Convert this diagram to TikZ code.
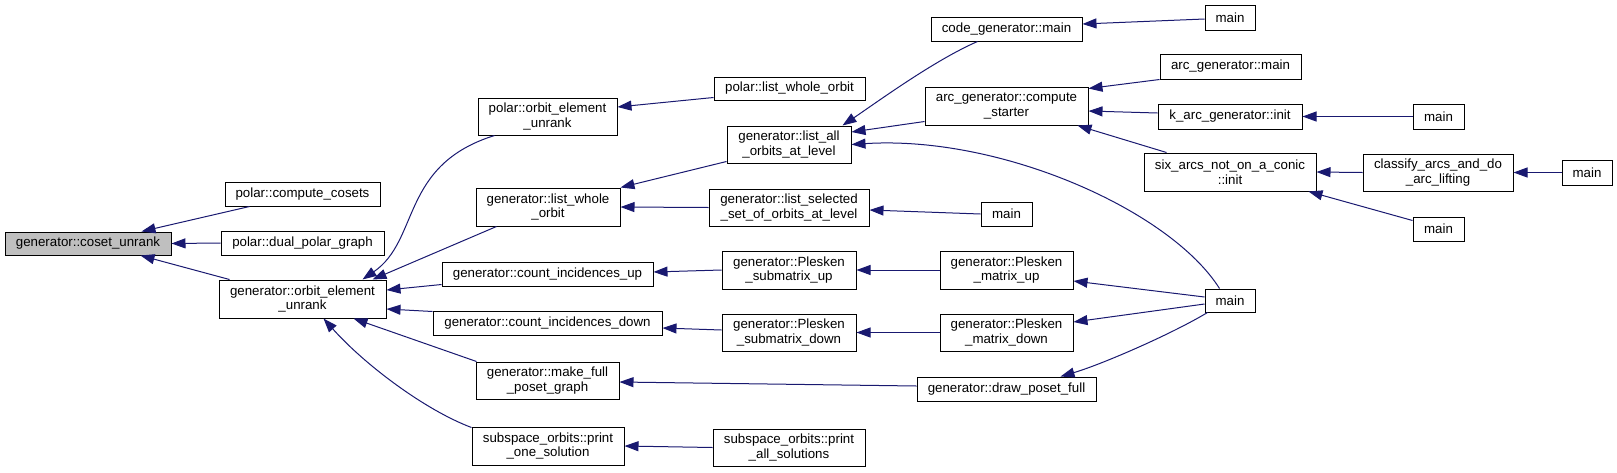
\documentclass[tikz,border=0pt]{standalone}
\usepackage{fontspec}
\setmainfont{Liberation Sans}
\usetikzlibrary{arrows.meta,calc}
\definecolor{edgeblue}{HTML}{191970}
\definecolor{nodegray}{HTML}{BFBFBF}
\newcommand\mkbox[7][]{\node[box,#1,minimum width=#5pt,minimum height=#6pt] (#2) at (#3,#4) {#7};}
\begin{document}
\begin{tikzpicture}[x=1pt,y=-1pt,
  box/.style={draw=black,line width=1pt,inner sep=0pt,align=center,fill=white,
    font=\fontsize{13.3}{14.5}\selectfont},
  edge/.style={draw=edgeblue,line width=1pt,-{Triangle[length=14pt,width=10pt]}}]
\useasboundingbox (0,0) rectangle (1617,472);
% nodes
\mkbox[fill=nodegray]{cu}{88}{243.5}{166}{23}{generator::coset\_unrank}
\mkbox{pcc}{302.5}{194}{155}{24}{polar::compute\_cosets}
\mkbox{pdpg}{302.5}{243}{163}{24}{polar::dual\_polar\_graph}
\mkbox{goeu}{302.5}{299}{167}{38}{generator::orbit\_element\\\_unrank}
\mkbox{poeu}{547.5}{116.5}{139}{37}{polar::orbit\_element\\\_unrank}
\mkbox{plwo}{789.5}{88.5}{151}{23}{polar::list\_whole\_orbit}
\mkbox{glwo}{548}{207}{144}{38}{generator::list\_whole\\\_orbit}
\mkbox{glao}{789}{144.5}{124}{37}{generator::list\_all\\\_orbits\_at\_level}
\mkbox{glss}{789}{207.5}{160}{37}{generator::list\_selected\\\_set\_of\_orbits\_at\_level}
\mkbox{gciu}{547.5}{274}{211}{24}{generator::count\_incidences\_up}
\mkbox{gcid}{547.5}{323}{229}{24}{generator::count\_incidences\_down}
\mkbox{gmfp}{547.5}{380.5}{143}{37}{generator::make\_full\\\_poset\_graph}
\mkbox{sop1}{548}{446}{152}{38}{subspace\_orbits::print\\\_one\_solution}
\mkbox{spas}{789}{447.5}{152}{37}{subspace\_orbits::print\\\_all\_solutions}
\mkbox{gpsu}{789}{270}{134}{38}{generator::Plesken\\\_submatrix\_up}
\mkbox{gpsd}{789}{332.5}{134}{37}{generator::Plesken\\\_submatrix\_down}
\mkbox{cgm}{1006.5}{29}{151}{24}{code\_generator::main}
\mkbox{m1}{1230}{17.5}{50}{25}{main}
\mkbox{acs}{1006.5}{106}{163}{38}{arc\_generator::compute\\\_starter}
\mkbox{agm}{1230.5}{66.5}{141}{25}{arc\_generator::main}
\mkbox{kagi}{1230}{116.5}{144}{25}{k\_arc\_generator::init}
\mkbox{sixa}{1230}{172}{172}{38}{six\_arcs\_not\_on\_a\_conic\\::init}
\mkbox{m2}{1006.5}{214}{51}{24}{main}
\mkbox{gpmu}{1006.5}{270}{133}{38}{generator::Plesken\\\_matrix\_up}
\mkbox{gpmd}{1006.5}{332.5}{133}{37}{generator::Plesken\\\_matrix\_down}
\mkbox{gdpf}{1006.5}{389}{179}{24}{generator::draw\_poset\_full}
\mkbox{m3}{1230}{300.5}{50}{23}{main}
\mkbox{m4}{1438.5}{116.5}{51}{25}{main}
\mkbox{cal}{1438}{172.5}{150}{37}{classify\_arcs\_and\_do\\\_arc\_lifting}
\mkbox{m5}{1587}{172.5}{50}{25}{main}
\mkbox{m6}{1438.5}{229}{51}{24}{main}
% edges (caller -> callee, arrowhead at callee)
\draw[edge] ($(pcc.south west)+(25,0)$) -- ($(cu.north east)+(-30,0)$);
\draw[edge] (pdpg.west) -- (cu.east);
\draw[edge] ($(goeu.north west)+(11,0)$) -- ($(cu.south east)+(-31,0)$);
\draw[edge] ($(poeu.south west)+(17,0)$) .. controls (400,165) and (420,240) .. ($(goeu.north east)+(-24,0)$);
\draw[edge] ($(glwo.south west)+(21,0)$) -- ($(goeu.north east)+(-14,0)$);
\draw[edge] ($(gciu.south west)+(0,-2)$) -- ($(goeu.east)+(0,-9)$);
\draw[edge] ($(gcid.north west)+(0,1)$) -- ($(goeu.east)+(0,10)$);
\draw[edge] ($(gmfp.north west)+(1,0)$) -- ($(goeu.south east)+(-33,0)$);
\draw[edge] ($(sop1.north west)+(0,1)$) .. controls (425,410) and (365,365) .. ($(goeu.south east)+(-63,0)$);
\draw[edge] ($(plwo.south west)+(0,-3)$) -- ($(poeu.east)+(0,-9.5)$);
\draw[edge] ($(glao.south west)+(0,-2)$) -- (glwo.north east);
\draw[edge] (glss.west) -- (glwo.east);
\draw[edge] ($(cgm.south west)+(47,0)$) .. controls (935,60) and (880,100) .. ($(glao.north east)+(-9,0)$);
\draw[edge] ($(acs.south west)+(0,-4)$) -- ($(glao.east)+(0,-12.5)$);
\draw[edge] ($(m3.north west)+(15,0)$) .. controls (1170,210) and (1000,135) .. (glao.east);
\draw[edge] (m2.west) -- ($(glss.east)+(0,2.5)$);
\draw[edge] (gpsu.west) -- ($(gciu.east)+(0,-2)$);
\draw[edge] ($(gpsd.west)+(0,-2.5)$) -- ($(gcid.east)+(0,5)$);
\draw[edge] ($(gdpf.west)+(0,-3)$) -- ($(gmfp.east)+(0,1.5)$);
\draw[edge] (spas.west) -- (sop1.east);
\draw[edge] (gpmu.west) -- (gpsu.east);
\draw[edge] (gpmd.west) -- (gpsd.east);
\draw[edge] ($(m3.west)+(0,-3.5)$) -- ($(gpmu.east)+(0,11)$);
\draw[edge] ($(m3.west)+(0,3.5)$) -- ($(gpmd.east)+(0,-10.5)$);
\draw[edge] ($(m3.south west)+(3,0)$) .. controls (1170,335) and (1100,365) .. ($(gdpf.north east)+(-36,0)$);
\draw[edge] ($(m1.west)+(0,1.5)$) -- ($(cgm.east)+(0,-5)$);
\draw[edge] (agm.south west) -- ($(acs.north east)+(0,2)$);
\draw[edge] ($(kagi.west)+(0,-3.5)$) -- ($(acs.east)+(0,5)$);
\draw[edge] ($(sixa.north west)+(23,0)$) -- ($(acs.south east)+(-11,0)$);
\draw[edge] (m4.west) -- (kagi.east);
\draw[edge] (cal.west) -- (sixa.east);
\draw[edge] ($(m6.north west)+(0,4)$) -- ($(sixa.south east)+(-8,0)$);
\draw[edge] (m5.west) -- (cal.east);
\end{tikzpicture}
\end{document}
